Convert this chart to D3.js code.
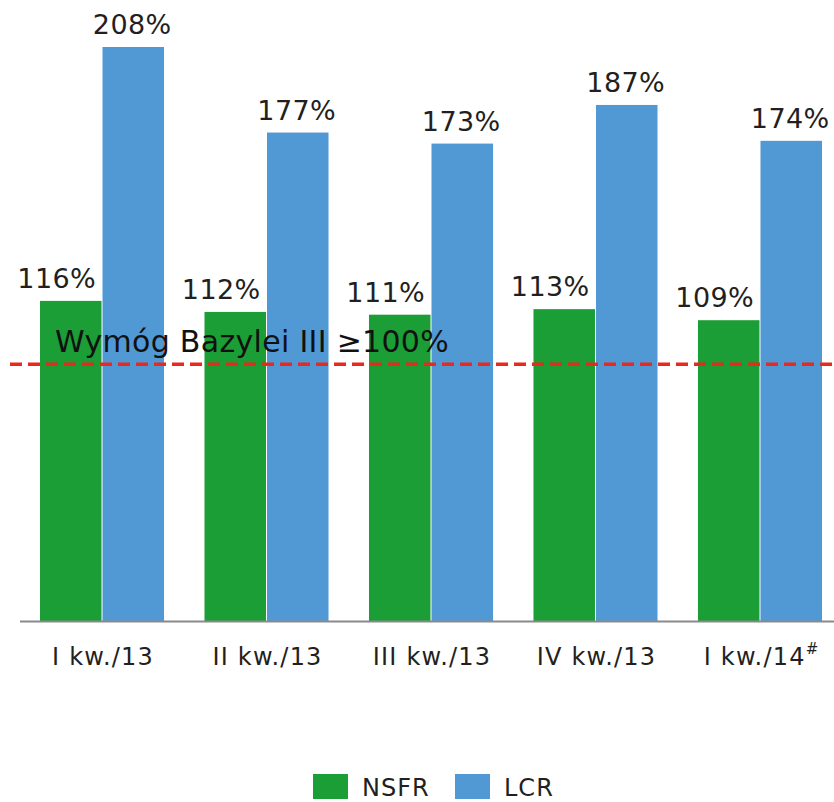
<!DOCTYPE html>
<html><head><meta charset="utf-8">
<script src="https://cdn.jsdelivr.net/npm/d3@7"></script>
<style>
html,body{margin:0;padding:0;background:#fff;}
svg{display:block;font-family:"DejaVu Sans",Verdana,sans-serif;}
</style></head>
<body>
<svg id="c" width="834" height="802"></svg>
<script>
const categories = ["I kw./13", "II kw./13", "III kw./13", "IV kw./13", "I kw./14"];
const categorySuperscripts = ["", "", "", "", "#"];
const seriesNames = ["NSFR", "LCR"];
const nsfrValues = [116, 112, 111, 113, 109];
const lcrValues = [208, 177, 173, 187, 174];
const seriesColors = ["#1b9e35", "#5199d5"];
const refLineValue = 93; // drawn position of the requirement line as shown
const refLineLabel = "Wymóg Bazylei III \u2265100%";

const svg = d3.select("#c");
const x0 = d3.scaleBand().domain(categories).range([40, 822]).paddingInner(0.246).paddingOuter(0);
const x1 = d3.scaleBand().domain(seriesNames).range([0, x0.bandwidth()]).paddingInner(0.016);
const y = d3.scaleLinear().domain([0, 208]).range([621, 47]);

const series = [nsfrValues, lcrValues];
const labelOffset = [-14, -1];

// bars
seriesNames.forEach((s, si) => {
  svg.append("g").selectAll("rect").data(categories).join("rect")
    .attr("x", d => x0(d) + x1(s))
    .attr("y", (d, i) => y(series[si][i]))
    .attr("width", x1.bandwidth())
    .attr("height", (d, i) => y(0) - y(series[si][i]))
    .attr("fill", seriesColors[si]);
  svg.append("g").selectAll("text").data(categories).join("text")
    .attr("x", d => x0(d) + x1(s) + x1.bandwidth() / 2 + labelOffset[si])
    .attr("y", (d, i) => y(series[si][i]) - 13)
    .attr("text-anchor", "middle")
    .attr("font-size", 27)
    .attr("letter-spacing", 0.4)
    .attr("fill", "#231f20")
    .text((d, i) => series[si][i] + "%");
});

// axis
const axis = d3.axisBottom(x0).tickSize(0).tickPadding(0).tickFormat(() => "");
const ag = svg.append("g").attr("transform", `translate(0,${y(0)})`).call(axis);
ag.select(".domain").remove();
svg.append("line").attr("x1", 20).attr("x2", 834).attr("y1", y(0) + 0.5).attr("y2", y(0) + 0.5)
  .attr("stroke", "#8a8a8a").attr("stroke-width", 2);
const tl = svg.append("g").selectAll("text").data(categories).join("text")
  .attr("x", d => x0(d) + x0.bandwidth() / 2 + 1)
  .attr("y", 665)
  .attr("text-anchor", "middle")
  .attr("font-size", 24)
  .attr("letter-spacing", 1.2)
  .attr("fill", "#231f20");
tl.append("tspan").text(d => d);
tl.filter((d, i) => categorySuperscripts[i]).append("tspan")
  .attr("dy", -11).attr("font-size", 15).attr("letter-spacing", 0)
  .text((d) => categorySuperscripts[categories.indexOf(d)]);

// reference line
const defs = svg.append("defs");
defs.append("filter").attr("id", "glow").append("feGaussianBlur").attr("stdDeviation", 1.5);
svg.append("line").attr("x1", 10).attr("x2", 834).attr("y1", y(refLineValue)).attr("y2", y(refLineValue))
  .attr("stroke", "#ffffff").attr("stroke-width", 6).attr("opacity", 0.7).attr("filter", "url(#glow)");
svg.append("line").attr("x1", 10).attr("x2", 834).attr("y1", y(refLineValue)).attr("y2", y(refLineValue))
  .attr("stroke", "#e8291c").attr("stroke-width", 3.5).attr("stroke-dasharray", "12,6");
svg.append("text").attr("x", 55).attr("y", y(refLineValue) - 12)
  .attr("font-size", 30).attr("letter-spacing", 0.3).attr("fill", "#111").text(refLineLabel);

// legend
const lg = svg.append("g");
const legX = [313, 455];
seriesNames.forEach((s, i) => {
  lg.append("rect").attr("x", legX[i]).attr("y", 774).attr("width", 35).attr("height", 25).attr("fill", seriesColors[i]);
  lg.append("text").attr("x", legX[i] + 49).attr("y", 796).attr("font-size", 24).attr("letter-spacing", 1)
    .attr("fill", "#231f20").text(s);
});
</script>
</body></html>
